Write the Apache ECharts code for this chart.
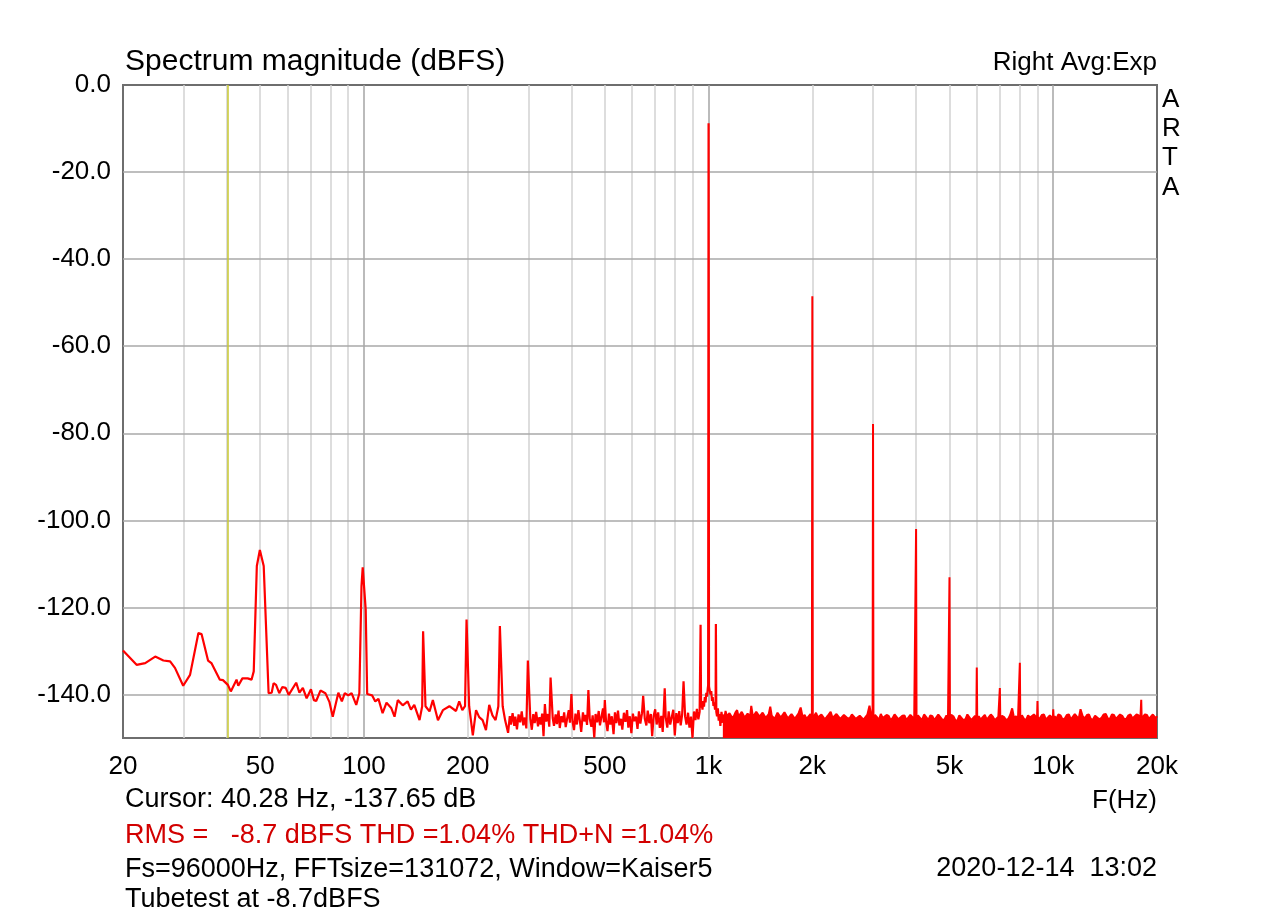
<!DOCTYPE html>
<html>
<head>
<meta charset="utf-8">
<script src="https://cdn.jsdelivr.net/npm/echarts@6/dist/echarts.min.js"></script>
<style>
html,body{margin:0;padding:0;background:#fff;}
#chart{width:1280px;height:918px;}
</style>
</head>
<body>
<div id="chart"></div>
<script>
// ---------- data ----------
const xTickValues = [20, 50, 100, 200, 500, 1000, 2000, 5000, 10000, 20000];
const yTickValues = [0, -20, -40, -60, -80, -100, -120, -140];
const minorGridHz = [30, 40, 50, 60, 70, 80, 90, 200, 300, 400, 500, 600, 700, 800, 900,
                     2000, 3000, 4000, 5000, 6000, 7000, 8000, 9000];
const majorGridHz = [100, 1000, 10000];
const gridDb = [-20, -40, -60, -80, -100, -120, -140];
const cursorHz = 40.28;

// [Hz, dBFS] – low band (20 Hz .. 1.1 kHz), drawn as a line
const lowBand = [
 [20,-129.9],[21.9,-133.2],[23.2,-132.8],[24.8,-131.3],[26.2,-132.2],[27.4,-132.4],[28.3,-133.9],
 [29.9,-138.0],[31.3,-135.5],[33.1,-125.9],[33.8,-126.1],[35.3,-132.2],[36.1,-132.8],[38.2,-136.6],
 [39.0,-136.7],[40.3,-137.8],[41.1,-139.3],[42.7,-136.6],[43.2,-138.0],[44.4,-136.3],[46.0,-136.3],
 [47.2,-136.6],[47.9,-134.7],[48.9,-110.5],[49.9,-106.8],[50.5,-107.2],[51.2,-110.5],[52.9,-139.7],
 [54.0,-139.6],[54.7,-137.4],[55.6,-137.8],[56.8,-139.7],[58.0,-138.3],[59.3,-138.5],[60.5,-140.1],
 [63.6,-137.3],[65.0,-139.6],[66.5,-138.5],[68.2,-140.9],[70.2,-138.8],[71.6,-141.3],[72.7,-141.5],
 [74.8,-139.1],[77.3,-139.7],[79.4,-141.7],[81.2,-145.1],[82.2,-145.1],[84.3,-139.6],[86.3,-141.6],
 [88.0,-139.7],[90.1,-140.2],[92.1,-139.7],[95.0,-142.4],[97.0,-139.7],[98.4,-115.1],[99.2,-110.8],
 [100.1,-111.0],[101.2,-120.5],[102.2,-139.9],[105.6,-140.2],[107.9,-141.6],[110.2,-141.0],
 [113.3,-144.3],[116.3,-141.9],[120,-143.1],[122.7,-145.1],[125.4,-141.3],[129.6,-142.5],
 [133.9,-141.6],[136.9,-143.5],[140,-142.4],[145,-145.9],[147.6,-142.7],[148.5,-125.5],[149.9,-125.5],
 [150.9,-142.7],[155,-143.9],[158.5,-141.3],[164,-145.9],[169.5,-143.6],[177,-142.7],[185,-143.8],
 [189,-141.6],[193,-143.6],[196.5,-142.7],[198.5,-122.8],[200.3,-123.0],[202,-142.7],[207,-149.4],
 [211.5,-143.6],[216,-145.2],[221,-145.9],[226,-148.2],[231,-142.4],[236,-144.8],[241,-145.9],
 [245.5,-142.7],[248,-124.3],[250,-124.3],[252.7,-142.7],[257,-146.0],[262,-148.8],
 [265,-145.0],[267,-146.9],[270,-144.3],[273,-147.2],[275,-145.1],[278,-148.0],[281,-144.6],
 [284,-146.4],[287,-143.9],[290,-147.1],[293,-145.3],[296,-147.8],[299,-132.2],[301,-132.4],
 [304,-145.6],[307,-148.1],[310,-144.5],[313,-146.6],[316,-144.0],[320,-147.3],[323,-145.2],
 [326,-146.9],[329,-144.4],[332,-149.6],[335,-142.2],[338,-146.2],[342,-144.5],[345,-147.4],
 [348,-136.1],[350,-136.3],[353,-145.4],[356,-147.2],[360,-144.6],[363,-146.8],[367,-143.7],
 [370,-147.7],[374,-145.0],[378,-146.4],[381,-144.1],[385,-147.5],[389,-145.4],[393,-143.6],
 [396,-146.5],[400,-139.9],[403,-146.2],[407,-148.2],[411,-144.4],[415,-146.9],[419,-143.6],
 [423,-145.9],[427,-148.6],[432,-144.1],[436,-146.2],[440,-144.7],[444,-147.0],[448,-139.0],
 [452,-145.6],[457,-147.4],[461,-144.8],[466,-149.9],[470,-144.5],[475,-146.4],[480,-143.8],
 [484,-147.1],[489,-145.1],[494,-143.2],[497,-146.4],[500,-141.3],[504,-146.1],[509,-148.4],
 [514,-144.4],[519,-146.9],[524,-145.0],[530,-149.1],[535,-144.1],[540,-146.6],[546,-143.7],
 [551,-147.1],[557,-145.6],[562,-148.1],[568,-144.2],[574,-146.3],[580,-143.6],[585,-147.6],
 [591,-145.0],[597,-148.9],[603,-144.4],[609,-146.1],[616,-145.1],[622,-147.9],[628,-143.9],
 [634,-146.7],[641,-144.3],[646,-140.3],[653,-145.6],[660,-147.1],[666,-143.7],[673,-146.6],
 [680,-144.5],[686,-149.6],[693,-144.9],[700,-143.4],[707,-146.9],[714,-144.1],[722,-147.7],
 [729,-144.9],[736,-148.6],[741,-143.9],[746,-138.6],[751,-145.3],[759,-147.6],[766,-143.9],
 [774,-146.9],[782,-145.2],[790,-143.5],[798,-149.4],[806,-144.3],[814,-146.6],[822,-143.8],
 [830,-147.1],[838,-144.7],[846,-137.0],[855,-145.1],[863,-146.9],[872,-144.2],[880,-147.6],
 [889,-145.1],[898,-150.0],[907,-143.9],[916,-145.9],[925,-143.3],[934,-145.7],[942,-144.0],
 [948,-124.0],[951,-143.0],[955,-142.0],[960,-143.5],[965,-141.5],[970,-142.8],[975,-140.6],
 [980,-141.8],[985,-139.6],[990,-140.5],[995,-138.5],[997,-138.0],[1000,-8.8],[1003,-138.2],
 [1008,-138.6],[1013,-140.0],[1018,-139.2],[1023,-141.5],[1028,-140.6],[1033,-142.6],[1038,-141.8],
 [1044,-143.5],[1048,-143.0],[1050,-123.8],[1053,-144.0],[1058,-145.0],[1064,-143.2],[1070,-146.0],
 [1076,-144.5],[1082,-147.2],[1090,-144.0],[1100,-146.5]
];

// [Hz, dBFS] – upper edge of the dense noise floor above 1.1 kHz (filled down to -150)
const noiseTop = [
 [1100,-144.6],[1110,-145.6],[1120,-143.8],[1130,-145.0],[1140,-145.2],[1150,-144.3],[1160,-144.0],
 [1172,-145.4],[1185,-144.9],[1197,-144.1],[1210,-143.6],[1222,-145.1],[1235,-145.0],[1248,-144.0],
 [1260,-144.2],[1272,-145.3],[1285,-145.5],[1298,-144.4],[1310,-144.0],[1320,-145.0],[1330,-142.6],
 [1345,-145.2],[1360,-144.8],[1375,-144.0],[1390,-143.9],[1405,-145.1],[1420,-145.3],[1435,-144.2],
 [1450,-144.1],[1465,-145.4],[1480,-145.0],[1495,-144.5],[1510,-142.8],[1525,-144.9],[1540,-144.6],
 [1555,-145.6],[1570,-145.4],[1585,-144.2],[1600,-144.0],[1620,-145.3],[1640,-145.1],[1660,-144.1],
 [1680,-144.3],[1700,-145.5],[1720,-145.6],[1740,-144.5],[1760,-144.4],[1780,-145.6],[1800,-145.0],
 [1825,-144.3],[1850,-143.0],[1875,-145.2],[1900,-144.7],[1925,-145.6],[1950,-145.3],[1975,-144.5],
 [2025,-145.4],[2050,-144.2],[2075,-145.3],[2100,-145.6],[2125,-144.6],[2150,-144.5],[2175,-145.7],
 [2200,-145.2],[2230,-144.6],[2260,-144.0],[2290,-145.4],[2320,-145.5],[2350,-144.5],[2380,-144.6],
 [2410,-145.6],[2440,-145.8],[2470,-144.7],[2500,-144.3],[2535,-145.5],[2570,-145.4],[2605,-144.6],
 [2640,-144.5],[2675,-145.6],[2710,-145.9],[2745,-144.9],[2780,-144.8],[2815,-145.8],[2850,-145.5],
 [2890,-144.6],[2930,-142.6],[2965,-144.9],[3040,-144.7],[3080,-145.2],[3120,-145.9],[3160,-144.5],
 [3200,-145.4],[3240,-145.8],[3285,-144.7],[3330,-144.9],[3375,-145.9],[3420,-145.4],[3465,-144.6],
 [3510,-144.6],[3555,-145.7],[3600,-146.0],[3650,-144.9],[3700,-144.8],[3750,-145.9],[3800,-145.5],
 [3850,-144.7],[3900,-144.4],[3950,-145.6],[4050,-144.8],[4100,-145.3],[4160,-145.9],[4220,-144.6],
 [4280,-145.2],[4340,-145.9],[4400,-144.8],[4460,-145.0],[4520,-145.9],[4580,-145.6],[4640,-144.6],
 [4700,-144.7],[4765,-145.8],[4830,-145.8],[4900,-144.8],[4950,-145.6],[5060,-144.7],[5130,-145.0],
 [5200,-145.9],[5270,-146.0],[5340,-144.8],[5410,-144.9],[5485,-145.9],[5560,-145.7],[5635,-144.6],
 [5710,-144.8],[5785,-145.9],[5860,-145.5],[5930,-144.9],[6080,-145.0],[6160,-145.8],[6245,-145.2],
 [6330,-144.7],[6415,-145.8],[6500,-145.6],[6590,-144.6],[6680,-145.1],[6770,-145.9],[6860,-146.0],
 [6930,-145.1],[7100,-144.9],[7200,-145.2],[7300,-145.9],[7400,-145.6],[7500,-144.7],[7600,-143.2],
 [7700,-145.5],[7800,-145.0],[7900,-145.8],[8110,-144.8],[8220,-145.6],[8335,-145.9],[8450,-144.8],
 [8565,-145.3],[8680,-145.7],[8790,-144.6],[8900,-144.9],[9080,-145.5],[9150,-145.4],[9275,-144.7],
 [9400,-144.6],[9525,-145.8],[9650,-145.9],[9775,-144.8],[9900,-144.5],[10100,-145.0],[10200,-145.6],
 [10350,-144.6],[10500,-144.8],[10650,-145.8],[10800,-145.5],[10950,-144.7],[11100,-144.6],
 [11250,-145.7],[11400,-145.3],[11550,-144.5],[11700,-144.9],[11850,-145.6],[12000,-143.4],
 [12175,-145.0],[12350,-145.5],[12525,-144.7],[12700,-144.6],[12875,-145.8],[13050,-145.7],
 [13225,-144.9],[13400,-144.8],[13600,-145.7],[13800,-145.4],[14000,-144.6],[14200,-144.5],
 [14400,-145.5],[14600,-145.6],[14800,-144.6],[15000,-144.7],[15200,-145.6],[15400,-145.5],
 [15625,-144.6],[15850,-144.9],[16075,-145.7],[16300,-145.6],[16525,-144.8],[16750,-144.6],
 [16975,-145.5],[17200,-145.2],[17450,-144.6],[17700,-144.8],[17900,-145.5],[18200,-145.4],
 [18450,-144.6],[18700,-144.7],[18950,-145.6],[19200,-145.3],[19450,-144.6],[19700,-144.8],
 [19850,-145.5],[20000,-145.0]
];

// harmonic spikes [Hz, dBFS]
const harmonics = [
 [2000,-48.5],[3000,-77.9],[4000,-102.0],[5000,-113.1],[6000,-133.8],
 [7000,-138.5],[8000,-132.7],[9000,-141.5],[10000,-143.4],[18000,-141.2]
];
const spikeFootDb = -145.5;

// ---------- build series data ----------
const highBand = noiseTop.slice();
harmonics.forEach(function (h) {
  highBand.push([h[0] * 0.997, spikeFootDb], [h[0], h[1]], [h[0] * 1.003, spikeFootDb]);
});
highBand.sort(function (a, b) { return a[0] - b[0]; });

const FONT = '"Liberation Sans", Arial, sans-serif';
const RED = '#ff0000';

const gridMarks = [];
minorGridHz.forEach(function (f) {
  gridMarks.push({ xAxis: f, lineStyle: { color: '#d2d2d2', width: 1.5, type: 'solid' } });
});
majorGridHz.forEach(function (f) {
  gridMarks.push({ xAxis: f, lineStyle: { color: '#a4a4a4', width: 1.5, type: 'solid' } });
});
gridDb.forEach(function (d) {
  gridMarks.push({ yAxis: d, lineStyle: { color: '#a8a8a8', width: 1.5, type: 'solid' } });
});
gridMarks.push({ xAxis: cursorHz, lineStyle: { color: '#c8c832', width: 1.5, type: 'solid' } });

function txt(text, x, y, size, align, color) {
  return {
    type: 'text', x: x, y: y, silent: true,
    style: { text: text, fontSize: size, fontFamily: FONT, fill: color || '#000',
             align: align || 'left', verticalAlign: 'middle' }
  };
}

const chart = echarts.init(document.getElementById('chart'), null, { renderer: 'canvas' });
chart.setOption({
  animation: false,
  backgroundColor: '#ffffff',
  grid: { left: 123, right: 123, top: 85, bottom: 180, show: true,
          borderColor: '#6e6e6e', borderWidth: 2, backgroundColor: 'transparent' },
  xAxis: {
    type: 'log', logBase: 10, min: 20, max: 20000,
    axisLine: { show: false }, axisTick: { show: false }, splitLine: { show: false },
    minorTick: { show: false }, minorSplitLine: { show: false },
    axisLabel: {
      customValues: xTickValues, margin: 16, fontSize: 26, fontFamily: FONT, color: '#000',
      showMinLabel: true, showMaxLabel: true,
      formatter: function (v) { return v >= 1000 ? (v / 1000) + 'k' : String(v); }
    }
  },
  yAxis: {
    type: 'value', min: -150, max: 0,
    axisLine: { show: false }, axisTick: { show: false }, splitLine: { show: false },
    axisLabel: {
      customValues: yTickValues, margin: 12, fontSize: 26, fontFamily: FONT, color: '#000',
      formatter: function (v) { return Number(v).toFixed(1); }
    }
  },
  series: [
    {
      name: 'grid', type: 'line', data: [], z: 1, silent: true,
      markLine: { silent: true, symbol: 'none', z: 1, animation: false,
                  label: { show: false }, data: gridMarks }
    },
    {
      name: 'low', type: 'line', data: lowBand, z: 3, showSymbol: false, silent: true,
      lineStyle: { color: RED, width: 2.2 }, sampling: 'none'
    },
    {
      name: 'high', type: 'line', data: highBand, z: 3, showSymbol: false, silent: true,
      lineStyle: { color: RED, width: 2 },
      areaStyle: { color: RED, opacity: 1, origin: 'start' }
    }
  ],
  graphic: [
    txt('Spectrum magnitude (dBFS)', 125, 62, 30, 'left'),
    txt('Right Avg:Exp', 1157, 63, 26, 'right'),
    txt('A', 1162, 100, 26, 'left'),
    txt('R', 1162, 129, 26, 'left'),
    txt('T', 1162, 158, 26, 'left'),
    txt('A', 1162, 188, 26, 'left'),
    txt('Cursor: 40.28 Hz, -137.65 dB', 125, 800, 27, 'left'),
    txt('F(Hz)', 1157, 801, 26, 'right'),
    txt('RMS =   -8.7 dBFS THD =1.04% THD+N =1.04%', 125, 836, 27, 'left', '#d20000'),
    txt('Fs=96000Hz, FFTsize=131072, Window=Kaiser5', 125, 870, 27, 'left'),
    txt('2020-12-14  13:02', 1157, 869, 27, 'right'),
    txt('Tubetest at -8.7dBFS', 125, 900, 27, 'left')
  ]
});
</script>
</body>
</html>
